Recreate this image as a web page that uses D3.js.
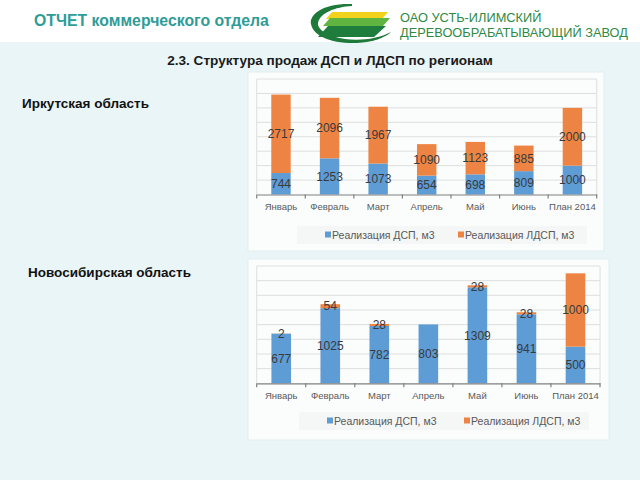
<!DOCTYPE html>
<html><head><meta charset="utf-8">
<script src="https://cdn.jsdelivr.net/npm/d3@7"></script>
<style>html,body{margin:0;padding:0;background:#e9f5f7;}svg{display:block;}</style>
</head><body>
<script>
const months = ["Январь","Февраль","Март","Апрель","Май","Июнь","План 2014"];
const irkDsp  = [744,1253,1073,654,698,809,1000];
const irkLdsp = [2717,2096,1967,1090,1123,885,2000];
const novDsp  = [677,1025,782,803,1309,941,500];
const novLdsp = [2,54,28,0,28,28,1000];
const seriesNames = ["Реализация ДСП, м3","Реализация ЛДСП, м3"];
const colors = ["#5e9cd6","#ee8443"];

const W=640,H=480;
const svg=d3.select("body").append("svg").attr("width",W).attr("height",H);
svg.append("rect").attr("width",W).attr("height",H).attr("fill","#e9f5f7");
svg.append("rect").attr("width",W).attr("height",42).attr("fill","#ffffff");

// header
svg.append("text").attr("x",34).attr("y",26).text("ОТЧЕТ коммерческого отдела")
  .attr("font-family","Liberation Sans, Arial, sans-serif").attr("font-size",15.8).attr("font-weight","bold").attr("fill","#2f9c98");
const lg=svg.append("g");
lg.append("path").attr("d","M352,4 C324,3 309,14 311,24 C313,36 332,44 357,43 C373,42 385,38 391,32 C378,39 360,41 345,39 C326,36 317,29 318,23 C320,13 335,7 352,6 Z").attr("fill","#1f7a3a");
lg.append("path").attr("d","M332,12 L388,12 L382,19 L326,19 Z").attr("fill","#f2d21c");
lg.append("path").attr("d","M330,18 L390,18 L383,26 L323,26 Z").attr("fill","#5fb540");
lg.append("path").attr("d","M328,26 L386,26 L374,37 L318,37 Z").attr("fill","#1e7d3c");
svg.append("text").attr("x",400).attr("y",22).text("ОАО УСТЬ-ИЛИМСКИЙ")
  .attr("font-family","Liberation Sans, Arial, sans-serif").attr("font-size",12.8).attr("fill","#2e8a44");
svg.append("text").attr("x",400).attr("y",37).text("ДЕРЕВООБРАБАТЫВАЮЩИЙ ЗАВОД")
  .attr("font-family","Liberation Sans, Arial, sans-serif").attr("font-size",12.8).attr("fill","#2e8a44");

svg.append("text").attr("x",330).attr("y",65).attr("text-anchor","middle").text("2.3. Структура продаж ДСП и ЛДСП по регионам")
  .attr("font-family","Liberation Sans, Arial, sans-serif").attr("font-size",13.6).attr("font-weight","bold").attr("fill","#1a1a1a");
svg.append("text").attr("x",22).attr("y",108).text("Иркутская область")
  .attr("font-family","Liberation Sans, Arial, sans-serif").attr("font-size",13.5).attr("font-weight","bold").attr("fill","#111");
svg.append("text").attr("x",28).attr("y",277).text("Новосибирская область")
  .attr("font-family","Liberation Sans, Arial, sans-serif").attr("font-size",13.5).attr("font-weight","bold").attr("fill","#111");

function drawChart(o){
  const g=svg.append("g");
  g.append("rect").attr("x",o.px0).attr("y",o.py0).attr("width",o.px1-o.px0).attr("height",o.py1-o.py0)
    .attr("fill","#fbfdfd").attr("stroke","#e3eeef");
  const x=d3.scaleBand().domain(months).range([o.x0,o.x1]).paddingInner(0.6).paddingOuter(0.3);
  const y=d3.scaleLinear().domain([0,o.max]).range([o.yb,o.yt]);
  // gridlines
  g.append("g").selectAll("line").data(d3.range(o.step,o.max+1,o.step)).join("line")
    .attr("x1",o.x0).attr("x2",o.x1).attr("y1",d=>y(d)).attr("y2",d=>y(d)).attr("stroke","#dedede").attr("stroke-width",1);
  g.append("line").attr("x1",o.x0).attr("x2",o.x0).attr("y1",y(o.max)).attr("y2",y(0)).attr("stroke","#dedede");
  g.append("line").attr("x1",o.x1).attr("x2",o.x1).attr("y1",y(o.max)).attr("y2",y(0)).attr("stroke","#dedede");
  const rows=months.map((m,i)=>({m,a:o.a[i],b:o.b[i]}));
  const stack=d3.stack().keys(["a","b"])(rows);
  stack.forEach((s,si)=>{
    g.append("g").selectAll("rect").data(s).join("rect")
      .attr("x",d=>x(d.data.m)).attr("width",x.bandwidth())
      .attr("y",d=>y(d[1])).attr("height",d=>Math.max(0,y(d[0])-y(d[1])))
      .attr("fill",colors[si]);
  });
  stack.forEach((s,si)=>{
    g.append("g").selectAll("text").data(s.filter(d=>d[1]-d[0]>0)).join("text")
      .attr("x",d=>x(d.data.m)+x.bandwidth()/2).attr("y",d=>(y(d[0])+y(d[1]))/2)
      .attr("dy","0.36em").attr("text-anchor","middle")
      .attr("font-family","Liberation Sans, Arial, sans-serif").attr("font-size",12).attr("fill","#3a3a3a")
      .text(d=>d[1]-d[0]);
  });
  // axis
  const ax=g.append("g").attr("transform",`translate(0,${o.yb})`)
    .call(d3.axisBottom(x).tickSize(0).tickPadding(9));
  ax.select(".domain").attr("stroke","#7f7f7f").attr("stroke-width",1.2);
  ax.selectAll("text").attr("font-family","Liberation Sans, Arial, sans-serif").attr("font-size",9.5).attr("fill","#595959");
  const bounds=d3.range(0,months.length+1).map(i=>o.x0+i*x.step());
  g.append("g").selectAll("line").data(bounds).join("line")
    .attr("x1",d=>d).attr("x2",d=>d).attr("y1",o.yb).attr("y2",o.yb+4).attr("stroke","#7f7f7f").attr("stroke-width",1.2);
  // legend
  g.append("rect").attr("x",o.lx-28).attr("y",o.ly-9).attr("width",290).attr("height",18).attr("fill","#f5f6f6");
  const lgd=g.append("g");
  seriesNames.forEach((n,i)=>{
    const lx=o.lx+i*o.lgap;
    lgd.append("rect").attr("x",lx).attr("y",o.ly-3.5).attr("width",6).attr("height",6).attr("fill",colors[i]);
    lgd.append("text").attr("x",lx+7).attr("y",o.ly).attr("dy","0.35em").text(n)
      .attr("font-family","Liberation Sans, Arial, sans-serif").attr("font-size",10.5).attr("fill","#595959");
  });
}

drawChart({px0:248,py0:72,px1:604,py1:251,x0:256.7,x1:596.7,yb:194.5,yt:79,max:4000,step:500,
  a:irkDsp,b:irkLdsp,lx:325,ly:235,lgap:133});
drawChart({px0:248,py0:259,px1:609,py1:440,x0:256.7,x1:600,yb:383.3,yt:266,max:1600,step:200,
  a:novDsp,b:novLdsp,lx:327,ly:421,lgap:137});
</script>
</body></html>
